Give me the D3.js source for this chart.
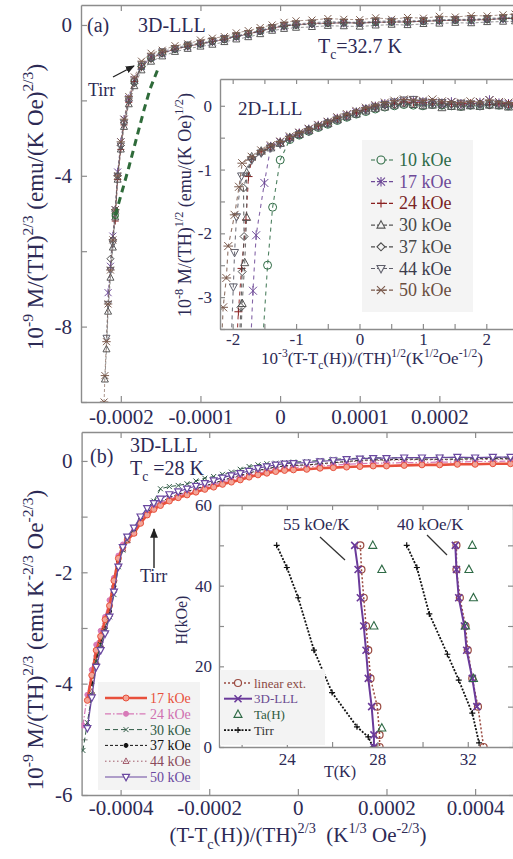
<!DOCTYPE html>
<html>
<head>
<meta charset="utf-8">
<script src="https://cdn.jsdelivr.net/npm/d3@7"></script>
<style>
  body { margin: 0; background: #fff; }
  svg text { font-family: "Liberation Serif", "Times New Roman", serif; white-space: pre; }
</style>
</head>
<body>
<svg id="fig" width="513" height="859"></svg>
<script>
// ---------- panel (a): 3D-LLL scaling, x in units of 1e-4 ----------
const xA = [-2.21,-2.20,-2.18,-2.16,-2.13,-2.10,-2.07,-2.04,-2.00,-1.96,
  -1.90,-1.83,-1.74,-1.62,-1.48,-1.32,-1.16,-1.00,-0.85,-0.70,
  -0.55,-0.40,-0.25,-0.10,0.05,0.20,0.40,0.60,0.80,1.00,
  1.20,1.40,1.60,1.80,2.00,2.20,2.40,2.60,2.80,2.95];
const a10 = [null,null,null,null,null,null,null,null,null,null,
  null,-1.5,-1.1,-0.88,-0.74,-0.64,-0.55,-0.50,-0.43,-0.38,
  -0.30,-0.24,-0.16,-0.08,-0.02,0.0,0.04,0.05,0.06,0.05,
  0.07,0.08,0.08,0.10,0.12,0.13,0.13,0.15,0.17,0.18];
const a17 = [null,null,null,-7.1,-6.4,-5.6,-4.9,-3.9,-3.1,-2.5,
  -1.95,-1.45,-1.1,-0.85,-0.75,-0.63,-0.57,-0.49,-0.45,-0.37,
  -0.31,-0.25,-0.15,-0.09,-0.03,0.01,0.03,0.06,0.05,0.06,
  0.06,0.09,0.07,0.11,0.11,0.14,0.12,0.16,0.16,0.18];
const a24 = [null,null,null,null,null,null,-5.2,-4.1,-3.3,-2.65,
  -2.05,-1.5,-1.12,-0.9,-0.74,-0.64,-0.57,-0.5,-0.44,-0.38,
  -0.31,-0.23,-0.17,-0.08,-0.03,0.0,0.05,0.04,0.06,0.05,
  0.07,0.08,0.08,0.10,0.11,0.13,0.13,0.14,0.17,0.18];
const a30 = [null,-9.4,-8.6,-7.6,-6.7,-5.9,-5.1,-4.1,-3.3,-2.7,
  -2.1,-1.62,-1.2,-0.97,-0.83,-0.71,-0.63,-0.57,-0.52,-0.45,
  -0.38,-0.32,-0.24,-0.15,-0.10,-0.07,-0.05,-0.02,-0.03,-0.04,
  -0.01,0.01,0.00,0.03,0.04,0.06,0.05,0.08,0.09,0.10];
const a37 = [null,null,null,null,-6.2,-5.7,-4.9,-4.0,-3.2,-2.6,
  -2.0,-1.55,-1.1,-0.9,-0.76,-0.65,-0.56,-0.51,-0.45,-0.39,
  -0.30,-0.25,-0.17,-0.08,-0.02,0.0,0.02,0.04,0.07,0.04,
  0.08,0.07,0.09,0.09,0.12,0.12,0.14,0.14,0.17,0.17];
const a44 = [null,null,-8.3,-7.4,-6.5,-5.8,-5.0,-4.0,-3.2,-2.6,
  -2.0,-1.5,-1.05,-0.86,-0.70,-0.62,-0.52,-0.48,-0.42,-0.35,
  -0.28,-0.22,-0.14,-0.06,0.00,0.03,0.06,0.09,0.08,0.07,
  0.10,0.11,0.12,0.12,0.14,0.15,0.15,0.18,0.19,0.21];
const a50 = [-10.0,-9.3,-8.4,-7.4,-6.5,-5.7,-4.9,-4.0,-3.1,-2.5,
  -1.9,-1.38,-0.96,-0.75,-0.67,-0.55,-0.50,-0.40,-0.35,-0.31,
  -0.21,-0.15,-0.07,0.00,0.07,0.11,0.13,0.17,0.15,0.14,
  0.19,0.15,0.20,0.18,0.23,0.21,0.25,0.24,0.27,0.29];
// green dashed fit (10 kOe)
const fitAx = [-2.07,-1.90,-1.82,-1.71,-1.63,-1.54];
const fitAy = [-5.05,-3.78,-3.14,-2.26,-1.68,-1.2];

// ---------- inset (a): 2D-LLL scaling ----------
const xI = [-1.85,-1.7,-1.55,-1.4,-1.25,-1.1,-0.95,-0.8,-0.65,-0.5,
  -0.35,-0.2,-0.05,0.1,0.25,0.4,0.55,0.7,0.85,1.0,
  1.15,1.3,1.45,1.6,1.75,1.9,2.05,2.2,2.35,2.5];
const i10 = [null,null,null,null,null,-0.53,-0.46,-0.40,-0.34,-0.29,
  -0.23,-0.18,-0.13,-0.09,-0.05,-0.02,0.00,0.02,0.01,0.00,
  0.02,0.01,0.00,-0.01,0.01,0.00,0.02,0.01,0.00,0.01];
const i17 = [null,null,null,-0.64,-0.57,-0.50,-0.43,-0.37,-0.31,-0.26,
  -0.20,-0.15,-0.10,-0.05,-0.01,0.03,0.05,0.07,0.08,0.06,
  0.05,0.04,0.06,0.03,0.02,0.05,0.09,0.04,0.03,0.02];
const i24 = [null,-0.84,-0.72,-0.65,-0.57,-0.52,-0.43,-0.38,-0.31,-0.27,
  -0.20,-0.15,-0.11,-0.06,-0.01,0.02,0.03,0.06,0.05,0.05,
  0.03,0.04,0.02,0.03,0.04,0.03,0.02,0.03,0.03,0.02];
const i30 = [null,-0.80,-0.71,-0.66,-0.59,-0.50,-0.45,-0.39,-0.33,-0.28,
  -0.22,-0.17,-0.13,-0.08,-0.04,-0.02,0.01,0.03,0.02,0.00,
  0.01,-0.03,-0.01,-0.02,0.00,-0.01,0.01,0.00,-0.02,0.00];
const i37 = [null,-0.83,-0.73,-0.64,-0.58,-0.51,-0.44,-0.37,-0.32,-0.26,
  -0.21,-0.16,-0.10,-0.05,-0.02,0.01,0.02,0.04,0.03,0.02,
  0.05,0.01,0.03,0.00,0.01,0.03,0.01,0.02,0.00,0.01];
const i44 = [null,-0.85,-0.74,-0.66,-0.60,-0.52,-0.45,-0.40,-0.33,-0.28,
  -0.22,-0.17,-0.12,-0.07,-0.02,0.02,0.06,0.09,0.10,0.06,
  0.03,0.05,0.02,0.04,0.03,0.00,0.04,0.03,0.01,0.02];
const i50 = [-0.9,-0.80,-0.70,-0.62,-0.56,-0.48,-0.42,-0.36,-0.30,-0.25,
  -0.18,-0.13,-0.08,-0.03,0.01,0.05,0.08,0.10,0.09,0.08,
  0.10,0.07,0.06,0.05,0.07,0.06,0.09,0.06,0.05,0.04];
// steep low-temperature tails, bottom to top
const t10 = [[-1.52,-3.6],[-1.45,-2.5],[-1.37,-1.59],[-1.25,-0.85]];
const t17 = [[-1.71,-3.6],[-1.68,-2.9],[-1.63,-2.03],[-1.50,-1.21]];
const t24 = [[-1.93,-3.6],[-1.91,-3.23],[-1.86,-2.55],[-1.79,-1.79],[-1.75,-1.11]];
const t30 = [[-1.87,-3.6],[-1.85,-3.1],[-1.81,-2.46],[-1.78,-1.75],[-1.78,-1.05]];
const t37 = [[-1.89,-3.6],[-1.87,-3.16],[-1.85,-2.6],[-1.82,-2.05],[-1.83,-1.29]];
const t44 = [[-2.02,-3.6],[-1.99,-2.84],[-1.97,-2.3],[-1.94,-1.74],[-1.86,-1.1]];
const t50 = [[-2.17,-3.6],[-2.15,-3.16],[-2.10,-2.7],[-2.07,-2.2],[-1.97,-1.71],[-1.90,-1.27]];
const fieldsA = ["10 kOe","17 kOe","24 kOe","30 kOe","37 kOe","44 kOe","50 kOe"];

// ---------- panel (b): x in units of 1e-4 ----------
const xB = [-4.85,-4.75,-4.65,-4.55,-4.45,-4.35,-4.25,-4.15,-4.05,-3.95,
  -3.85,-3.7,-3.55,-3.4,-3.25,-3.1,-2.9,-2.7,-2.5,-2.3,
  -2.1,-1.9,-1.7,-1.5,-1.3,-1.1,-0.9,-0.7,-0.5,-0.3,
  -0.1,0.2,0.5,0.8,1.1,1.4,1.7,2.0,2.4,2.8,
  3.2,3.6,4.0,4.4,4.8];
const b17 = [null,-4.3,-3.85,-3.4,-3.15,-2.85,-2.6,-2.15,-1.75,-1.55,
  -1.42,-1.3,-1.12,-0.97,-0.87,-0.80,-0.72,-0.66,-0.61,-0.56,
  -0.51,-0.47,-0.42,-0.38,-0.34,-0.29,-0.25,-0.22,-0.19,-0.17,
  -0.16,-0.15,-0.13,-0.12,-0.11,-0.10,-0.09,-0.09,-0.08,-0.07,
  -0.07,-0.06,-0.06,-0.05,-0.05];
const b24 = [-4.75,-4.2,-3.75,-3.3,-3.05,-2.8,-2.5,-2.1,-1.7,-1.5,
  -1.38,-1.25,-1.07,-0.93,-0.83,-0.76,-0.69,-0.63,-0.57,-0.53,
  -0.47,-0.43,-0.38,-0.34,-0.30,-0.26,-0.22,-0.19,-0.16,-0.14,
  -0.12,-0.11,-0.09,-0.08,-0.06,-0.05,-0.04,-0.04,-0.03,-0.03,
  -0.02,-0.02,-0.01,-0.01,0.0];
const b30 = [-5.2,-4.7,-4.2,-3.6,-3.3,-3.05,-2.8,-2.4,-1.9,-1.6,
  -1.42,-1.22,-1.0,-0.85,-0.72,-0.5,-0.46,-0.44,-0.41,-0.36,
  -0.31,-0.28,-0.24,-0.20,-0.15,-0.10,-0.07,-0.05,-0.04,-0.03,
  -0.02,-0.01,0.01,0.03,0.04,0.05,0.06,0.05,0.06,0.05,
  0.07,0.05,0.06,0.06,0.07];
const b37 = [null,null,-4.0,-3.5,-3.25,-3.0,-2.7,-2.25,-1.8,-1.55,
  -1.4,-1.27,-1.07,-0.92,-0.82,-0.74,-0.66,-0.60,-0.55,-0.50,
  -0.45,-0.40,-0.35,-0.30,-0.26,-0.22,-0.17,-0.14,-0.11,-0.09,
  -0.08,-0.07,-0.05,-0.03,-0.01,0.01,0.02,0.02,0.03,0.03,
  0.03,0.03,0.04,0.04,0.04];
const b44 = [null,-4.75,-4.15,-3.6,-3.3,-3.05,-2.75,-2.3,-1.85,-1.58,
  -1.43,-1.29,-1.09,-0.93,-0.83,-0.75,-0.67,-0.61,-0.56,-0.51,
  -0.46,-0.41,-0.36,-0.31,-0.27,-0.23,-0.18,-0.15,-0.12,-0.10,
  -0.09,-0.08,-0.06,-0.04,-0.02,0.0,0.01,0.01,0.02,0.02,
  0.02,0.02,0.02,0.03,0.03];
const b50 = [null,-4.8,-4.25,-3.7,-3.4,-3.1,-2.8,-2.35,-1.9,-1.55,
  -1.36,-1.2,-1.0,-0.85,-0.76,-0.68,-0.6,-0.55,-0.5,-0.45,
  -0.4,-0.35,-0.3,-0.26,-0.22,-0.18,-0.13,-0.10,-0.07,-0.05,
  -0.04,-0.03,-0.01,0.01,0.03,0.04,0.05,0.05,0.06,0.06,
  0.06,0.07,0.06,0.07,0.07];
const fieldsB = ["17 kOe","24 kOe","30 kOe","37 kOe","44 kOe","50 kOe"];

// ---------- inset (b): H-T phase lines ----------
const linLH = [50,44,37,30,24,17,10,3,0];
const linLT = [27.25,27.3,27.4,27.5,27.6,27.7,28.0,28.1,28.1];
const lllLH = [50,44,37,30,24,17,10,3,0];
const lllLT = [27.0,27.15,27.25,27.4,27.5,27.6,27.75,27.85,27.85];
const taLH = [50,44,30,4.7];
const taLT = [27.8,28.2,27.85,28.2];
const irrLH = [50,44.5,37,24,13.5,5,2.5,0];
const irrLT = [23.55,24.0,24.5,25.2,26.0,27.1,27.6,27.8];
const linRH = [50,44,37,30,24,17,10,0];
const linRT = [31.5,31.5,31.65,31.9,32.0,32.2,32.45,32.7];
const lllRH = [50,44,37,30,24,17,10];
const lllRT = [31.45,31.5,31.6,31.85,31.95,32.2,32.4];
const taRH = [50,44,37,30,17];
const taRT = [32.2,32.05,32.25,31.9,32.25];
const irrRH = [50,44.5,33,23,16.6,8.4,1];
const irrRT = [29.3,29.75,30.3,31.1,31.6,32.2,32.5];
const legendC = ["linear ext.","3D-LLL","Ta(H)","Tirr"];

// ---------- helpers ----------
const svg = d3.select("#fig");
const INK = "#2d2a55";
const FRAME = "#8c8c8c";
const SANS = "Liberation Sans, Arial, sans-serif";

const hy = s => String(s).replace("\u2212", "-");

function rich(g, x, y, size, parts, anchor, rot) {
  const t = g.append("text").attr("x", x).attr("y", y)
    .attr("font-size", size).attr("fill", INK)
    .attr("text-anchor", anchor || "start");
  if (rot) t.attr("transform", `rotate(${rot},${x},${y})`);
  let off = 0;
  parts.forEach(([s, k]) => {
    const target = k === "sup" ? -0.42 * size : k === "sub" ? 0.32 * size : 0;
    t.append("tspan").attr("dy", target - off)
      .attr("font-size", k === "n" ? size : size * 0.68).text(s);
    off = target;
  });
  return t;
}

function sym(g, type, x, y, s, col, fill, sw) {
  const h = s / 2;
  let d;
  if (type === "circle" || type === "dot") {
    g.append("circle").attr("cx", x).attr("cy", y).attr("r", h)
      .attr("fill", type === "dot" ? col : (fill || "none"))
      .attr("stroke", col).attr("stroke-width", sw || 1);
    return;
  }
  if (type === "plus") d = `M${x-h},${y}H${x+h}M${x},${y-h}V${y+h}`;
  if (type === "x") d = `M${x-h},${y-h}L${x+h},${y+h}M${x-h},${y+h}L${x+h},${y-h}`;
  if (type === "ast") d = `M${x-h},${y-h}L${x+h},${y+h}M${x-h},${y+h}L${x+h},${y-h}M${x},${y-h*1.2}V${y+h*1.2}`;
  if (type === "star") d = `M${x-h},${y-h}L${x+h},${y+h}M${x-h},${y+h}L${x+h},${y-h}M${x-h*1.2},${y}H${x+h*1.2}`;
  if (type === "tri") d = `M${x},${y-h*1.1}L${x+h},${y+h*0.75}L${x-h},${y+h*0.75}Z`;
  if (type === "tridown") d = `M${x},${y+h*1.1}L${x+h},${y-h*0.75}L${x-h},${y-h*0.75}Z`;
  if (type === "diamond") d = `M${x},${y-h}L${x+h},${y}L${x},${y+h}L${x-h},${y}Z`;
  g.append("path").attr("d", d).attr("fill", fill || "none")
    .attr("stroke", col).attr("stroke-width", sw || 1);
}

function drawPts(g, pts, sx, sy, st) {
  if (st.lw) {
    g.append("path")
      .attr("d", d3.line().x(p => sx(p[0])).y(p => sy(p[1]))(pts))
      .attr("fill", "none").attr("stroke", st.lc || st.color)
      .attr("stroke-width", st.lw).attr("stroke-dasharray", st.dash || null)
      .attr("opacity", st.lo || 1);
  }
  if (st.shape) pts.forEach(p => sym(g, st.shape, sx(p[0]), sy(p[1]), st.size, st.color, st.fill, st.sw));
}
const zip = (xs, ys) => xs.map((x, i) => [x, ys[i]]).filter(p => p[1] != null);

function axes(g, sx, sy, o) {
  const [x0, x1] = sx.range(), [y0, y1] = sy.range();
  const b = g.append("g").attr("transform", `translate(0,${y0})`)
    .call(d3.axisBottom(sx).tickValues(o.xt).tickSizeInner(-o.tl).tickSizeOuter(0)
      .tickPadding(o.xpad).tickFormat(o.xf));
  const t = g.append("g").attr("transform", `translate(0,${y1})`)
    .call(d3.axisTop(sx).tickValues(o.xt).tickSizeInner(-o.tl).tickSizeOuter(0).tickFormat(""));
  const l = g.append("g").attr("transform", `translate(${x0},0)`)
    .call(d3.axisLeft(sy).tickValues(o.yt).tickSizeInner(-o.tl).tickSizeOuter(0)
      .tickPadding(o.ypad).tickFormat(o.yf));
  const r = g.append("g").attr("transform", `translate(${x1},0)`)
    .call(d3.axisRight(sy).tickValues(o.yt).tickSizeInner(-o.tl).tickSizeOuter(0).tickFormat(""));
  [b, t, l, r].forEach(a => {
    a.select(".domain").attr("stroke", FRAME).attr("stroke-width", 1.4);
    a.selectAll(".tick line").attr("stroke", FRAME).attr("stroke-width", 1.2);
    a.selectAll("text").attr("fill", INK).attr("font-size", o.fs)
      .attr("font-family", "Liberation Serif, serif");
  });
}

const defs = svg.append("defs");
function clip(id, x, y, w, h) {
  defs.append("clipPath").attr("id", id).append("rect")
    .attr("x", x).attr("y", y).attr("width", w).attr("height", h);
}
defs.append("marker").attr("id", "arr").attr("viewBox", "0 0 10 10")
  .attr("refX", 9).attr("refY", 5).attr("markerWidth", 7).attr("markerHeight", 7)
  .attr("orient", "auto").append("path").attr("d", "M0,1L10,5L0,9Z").attr("fill", "#222");

const colA = ["#2f6b45", "#6e4a98", "#8a2020", "#575757", "#4c4c4c", "#5e5e6a", "#7a5a4c"];
const txtA = ["#2e6a48", "#6e4a98", "#7a2424", "#484848", "#484848", "#3c3c4c", "#6a4e40"];
const shpA = ["circle", "ast", "plus", "tri", "diamond", "tridown", "star"];

// ================= PANEL (a) =================
const sxA = d3.scaleLinear().domain([-2.5, 3.0]).range([81, 519]);
const syA = d3.scaleLinear().domain([-10, 0.53]).range([402, 5]);
clip("ca", 81, 5, 438, 397);
const gA = svg.append("g");
const fmt4 = d => d === 0 ? "0" : (d * 1e-4).toFixed(4);
axes(gA, sxA, syA, {
  xt: [-2, -1, 0, 1, 2, 3], yt: [-10, -8, -6, -4, -2, 0], tl: 6, fs: 21,
  xpad: 7, ypad: 9, xf: d => d < 3 ? fmt4(d) : "", yf: d => d % 4 === 0 ? hy(d) : ""
});
const dA = gA.append("g").attr("clip-path", "url(#ca)");
const seriesA = [a10, a17, a24, a30, a37, a44, a50];
seriesA.forEach((ys, k) => {
  drawPts(dA, zip(xA, ys), sxA, syA, { lw: 0.8, dash: "3,2", color: colA[k], lo: 0.8,
    shape: shpA[k], size: 7, sw: 1 });
});
drawPts(dA, zip(fitAx, fitAy), sxA, syA, { lw: 3, dash: "7,5", color: "#2f6b3a" });
sym(dA, "circle", sxA(fitAx[0]), syA(fitAy[0]), 6, "#2f6b3a", "none", 1.2);

rich(gA, 87, 32, 20, [["(a)", "n"]]);
rich(gA, 138, 32, 20, [["3D-LLL", "n"]]);
rich(gA, 318, 53, 20, [["T", "n"], ["c", "sub"], ["=32.7 K", "n"]]);
rich(gA, 88, 96, 18, [["Tirr", "n"]]);
gA.append("line").attr("x1", 113).attr("y1", 77).attr("x2", 134).attr("y2", 66)
  .attr("stroke", "#222").attr("stroke-width", 1.3).attr("marker-end", "url(#arr)");
rich(svg, 43, 207, 23, [["10", "n"], ["-9", "sup"], [" M/(TH)", "n"], ["2/3", "sup"],
  [" (emu/(K Oe)", "n"], ["2/3", "sup"], [")", "n"]], "middle", -90);

// ---------- inset (a) ----------
const sxI = d3.scaleLinear().domain([-2.2, 2.5]).range([220, 518]);
const syI = d3.scaleLinear().domain([-3.5, 0.42]).range([329, 79]);
svg.append("rect").attr("x", 220).attr("y", 79).attr("width", 298).attr("height", 250).attr("fill", "#fff");
clip("ci", 220, 79, 298, 250);
const gI = svg.append("g");
const dI = gI.append("g").attr("clip-path", "url(#ci)");
const seriesI = [i10, i17, i24, i30, i37, i44, i50];
const tailsI = [t10, t17, t24, t30, t37, t44, t50];
seriesI.forEach((ys, k) => {
  const pts = tailsI[k].concat(zip(xI, ys));
  drawPts(dI, pts, sxI, syI, { lw: 1.1, dash: "4,4", color: colA[k], lo: 0.85,
    shape: shpA[k], size: 8, sw: 1 });
});
axes(gI, sxI, syI, {
  xt: [-2, -1.5, -1, -0.5, 0, 0.5, 1, 1.5, 2, 2.5], yt: [-3.5, -3, -2.5, -2, -1.5, -1, -0.5, 0],
  tl: 5, fs: 17, xpad: 4, ypad: 8,
  xf: d => Number.isInteger(d) && d < 2.5 ? hy(d) : "", yf: d => Number.isInteger(d) ? hy(d) : ""
});
rich(gI, 238, 115, 19, [["2D-LLL", "n"]]);
gI.append("rect").attr("x", 362).attr("y", 140).attr("width", 111).attr("height", 172).attr("fill", "#f4f4f4");
fieldsA.forEach((f, k) => {
  const y = 160 + k * 21.7;
  gI.append("line").attr("x1", 371).attr("x2", 395).attr("y1", y).attr("y2", y)
    .attr("stroke", colA[k]).attr("stroke-width", 1.2).attr("stroke-dasharray", "4,2");
  sym(gI, shpA[k], 381, y, 8, colA[k], "#f4f4f4", 1.1);
  gI.append("text").attr("x", 399).attr("y", y + 6).attr("font-size", 18)
    .attr("fill", txtA[k]).text(f);
});
rich(svg, 191, 205, 18, [["10", "n"], ["-8", "sup"], [" M/(TH)", "n"], ["1/2", "sup"],
  [" (emu/(K Oe)", "n"], ["1/2", "sup"], [")", "n"]], "middle", -90);
rich(svg, 372, 364, 17, [["10", "n"], ["-3", "sup"], ["(T-T", "n"], ["c", "sub"], ["(H))/(TH)", "n"],
  ["1/2", "sup"], ["(K", "n"], ["1/2", "sup"], ["Oe", "n"], ["-1/2", "sup"], [")", "n"]], "middle");

// ================= PANEL (b) =================
const sxB = d3.scaleLinear().domain([-4.88, 4.9]).range([81.6, 515]);
const syB = d3.scaleLinear().domain([-6, 0.52]).range([795, 432]);
clip("cb", 81.6, 432, 434, 363);
const gB = svg.append("g");
axes(gB, sxB, syB, {
  xt: [-4, -2, 0, 2, 4], yt: [-6, -5, -4, -3, -2, -1, 0], tl: 6, fs: 21,
  xpad: 5, ypad: 9, xf: fmt4, yf: d => d % 2 === 0 ? hy(d) : ""
});
const dB = gB.append("g").attr("clip-path", "url(#cb)");
const stB = [
  { color: "#e8503c", lw: 2.6, shape: "circle", fill: "#f4a496", size: 6, sw: 1 },
  { color: "#d77ab8", lw: 1.2, dash: "6,2,1.5,2", shape: "dot", size: 5 },
  { color: "#2f5a45", lw: 1, dash: "5,3", shape: "x", size: 5, sw: 1 },
  { color: "#111111", lw: 1, dash: "3,2", shape: "dot", size: 4 },
  { color: "#a05a6a", lw: 1, dash: "1.5,2.5", shape: "tri", size: 6, sw: 1 },
  { color: "#6a48a0", lw: 1.2, shape: "tridown", fill: "#fff", size: 7, sw: 1.2 }
];
const seriesB = [b17, b24, b30, b37, b44, b50];
[3, 4, 1, 0, 2, 5].forEach(k => drawPts(dB, zip(xB, seriesB[k]), sxB, syB, stB[k]));

rich(gB, 90, 463, 20, [["(b)", "n"]]);
rich(gB, 130, 452, 20, [["3D-LLL", "n"]]);
rich(gB, 130, 475, 20, [["T", "n"], ["c", "sub"], [" =28 K", "n"]]);
rich(gB, 140, 582, 18, [["Tirr", "n"]]);
gB.append("line").attr("x1", 154).attr("y1", 568).attr("x2", 154).attr("y2", 529)
  .attr("stroke", "#222").attr("stroke-width", 1.4).attr("marker-end", "url(#arr)");
rich(svg, 43, 640, 23, [["10", "n"], ["-9", "sup"], [" M/(TH)", "n"], ["2/3", "sup"],
  [" (emu K", "n"], ["-2/3", "sup"], [" Oe", "n"], ["-2/3", "sup"], [")", "n"]], "middle", -90);
rich(svg, 298, 842, 21, [["(T-T", "n"], ["c", "sub"], ["(H))/(TH)", "n"], ["2/3", "sup"],
  ["  (K", "n"], ["1/3", "sup"], [" Oe", "n"], ["-2/3", "sup"], [")", "n"]], "middle");

// legend (b)
gB.append("rect").attr("x", 98).attr("y", 682).attr("width", 102).attr("height", 108).attr("fill", "#f3f3f3");
const txtB = ["#e8503c", "#d070b0", "#2f5a45", "#111111", "#8a4a5a", "#6a48a0"];
fieldsB.forEach((f, k) => {
  const y = 698 + k * 15.8, st = stB[k];
  gB.append("line").attr("x1", 105).attr("x2", 147).attr("y1", y).attr("y2", y)
    .attr("stroke", st.color).attr("stroke-width", st.lw).attr("stroke-dasharray", st.dash || null);
  sym(gB, st.shape, 126, y, st.size, st.color, st.fill, st.sw);
  gB.append("text").attr("x", 150).attr("y", y + 5).attr("font-size", 14)
    .attr("font-family", SANS).attr("fill", txtB[k]).text(f);
});

// ---------- inset (b) ----------
const sxT = d3.scaleLinear().domain([21, 34]).range([219, 513]);
const syH = d3.scaleLinear().domain([0, 60]).range([747, 505]);
svg.append("rect").attr("x", 219).attr("y", 505).attr("width", 294).attr("height", 242).attr("fill", "#fff");
clip("ct", 219, 505, 294, 242);
const gT = svg.append("g");
const dT = gT.append("g").attr("clip-path", "url(#ct)");
const stT = [
  { color: "#9a4a40", lw: 1.5, dash: "2,2", shape: "circle", size: 7, sw: 1.2 },
  { color: "#6a3a9a", lw: 2, shape: "x", size: 7, sw: 1.6 },
  { color: "#2e6a45", shape: "tri", size: 8, sw: 1.1 },
  { color: "#111111", lw: 1.8, dash: "2,1.5", shape: "plus", size: 6, sw: 1.2 }
];
drawPts(dT, zip(irrLT, irrLH), sxT, syH, stT[3]);
drawPts(dT, zip(irrRT, irrRH), sxT, syH, stT[3]);
drawPts(dT, zip(linLT, linLH), sxT, syH, stT[0]);
drawPts(dT, zip(linRT, linRH), sxT, syH, stT[0]);
drawPts(dT, zip(lllLT, lllLH), sxT, syH, stT[1]);
drawPts(dT, zip(lllRT, lllRH), sxT, syH, stT[1]);
drawPts(dT, zip(taLT, taLH), sxT, syH, stT[2]);
drawPts(dT, zip(taRT, taRH), sxT, syH, stT[2]);
axes(gT, sxT, syH, {
  xt: [22, 24, 26, 28, 30, 32, 34], yt: [0, 10, 20, 30, 40, 50, 60], tl: 5, fs: 17,
  xpad: 6, ypad: 7, xf: d => d % 4 === 0 ? d : "", yf: d => d % 20 === 0 ? d : ""
});
rich(gT, 283, 530, 17, [["55 kOe/K", "n"]]);
rich(gT, 397, 530, 17, [["40 kOe/K", "n"]]);
gT.append("line").attr("x1", 320).attr("y1", 537).attr("x2", 345).attr("y2", 560).attr("stroke", "#333").attr("stroke-width", 1.3);
gT.append("line").attr("x1", 427).attr("y1", 535).attr("x2", 447).attr("y2", 555).attr("stroke", "#333").attr("stroke-width", 1.3);
rich(gT, 340, 777, 16, [["T(K)", "n"]], "middle");
rich(svg, 187, 620, 16, [["H(kOe)", "n"]], "middle", -90);
gT.append("rect").attr("x", 220).attr("y", 670).attr("width", 105).attr("height", 75).attr("fill", "#f3f3f3");
const txtT = ["#8a4a44", "#6a4a90", "#2e5a40", "#333333"];
legendC.forEach((f, k) => {
  const y = 683 + k * 15.7, st = stT[k];
  if (st.lw) gT.append("line").attr("x1", 224).attr("x2", 252).attr("y1", y).attr("y2", y)
    .attr("stroke", st.color).attr("stroke-width", st.lw).attr("stroke-dasharray", st.dash || null);
  sym(gT, st.shape, 238, y, st.size, st.color, "#f3f3f3", st.sw);
  gT.append("text").attr("x", 254).attr("y", y + 4.5).attr("font-size", 13)
    .attr("font-family", SANS).attr("fill", txtT[k]).text(f);
});
</script>
</body>
</html>
